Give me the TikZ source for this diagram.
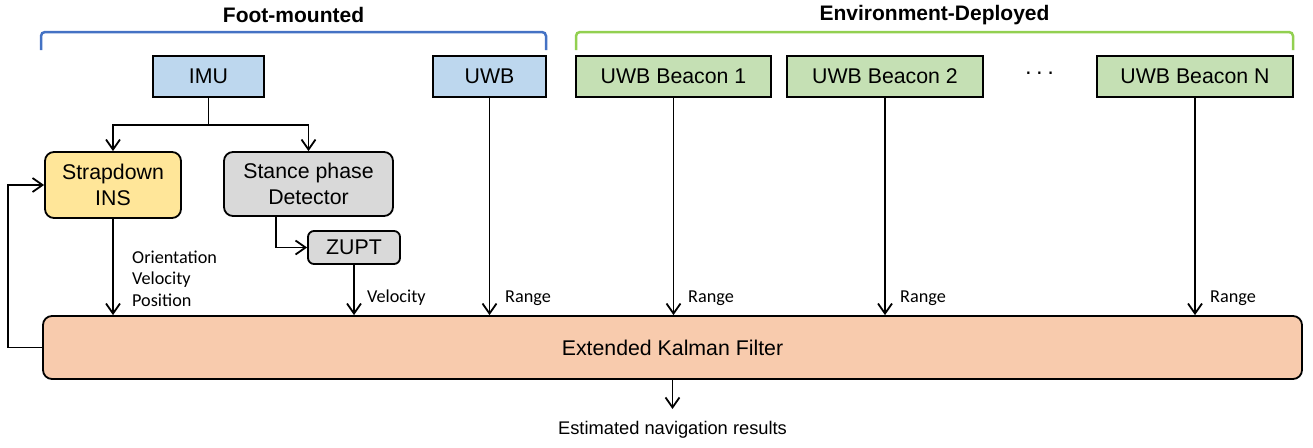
\documentclass[tikz,border=0pt]{standalone}
\usepackage{fontspec}
\setmainfont{Liberation Sans}
\newfontfamily\lblfont{Carlito}
\usepackage{tikz}
\usetikzlibrary{arrows.meta}
\definecolor{imublue}{HTML}{BDD7EE}
\definecolor{beacongreen}{HTML}{C5E0B4}
\definecolor{insyellow}{HTML}{FFE699}
\definecolor{detgray}{HTML}{D9D9D9}
\definecolor{ekforange}{HTML}{F8CBAD}
\definecolor{footblue}{HTML}{4472C4}
\definecolor{envgreen}{HTML}{92D050}

\begin{document}
\begin{tikzpicture}[x=1pt,y=-1pt,
	box/.style={draw,line width=1.8pt,inner sep=0pt,align=center,minimum height=41pt,
		font=\fontsize{21.3}{26.5}\selectfont},
	sensor/.style={box,fill=imublue},
	beacon/.style={box,fill=beacongreen,minimum width=196pt},
	rbox/.style={box,rounded corners=9pt},
	conn/.style={line width=1.8pt},
	arr/.style={conn,-{Straight Barb[length=10pt,width=14pt]}},
	lbl/.style={anchor=west,inner sep=0pt,align=left,font=\lblfont\fontsize{18.2}{21.5}\selectfont},
	brace/.style={line width=2.5pt,rounded corners=4pt},
	title/.style={inner sep=0pt,font=\bfseries\fontsize{21}{25}\selectfont}]
			\useasboundingbox (0,0) rectangle (1313,447);
			\draw[brace,footblue] (41,50) -- (41,32) -- (546,32) -- (546,50);
			\node[title] (foot) at (293.5,15) {Foot-mounted};
			\draw[brace,envgreen] (576,50) -- (576,32) -- (1293,32) -- (1293,50);
			\node[title] (env) at (934.5,15) {Environment-Deployed};
			\node[sensor,minimum width=111pt] (imu) at (208.5,76.5) {IMU};
			\node[sensor,minimum width=113pt] (uwb) at (489.5,76.5) {UWB};
			\node[beacon,minimum width=195pt] (bcn1) at (673.5,76.5) {UWB Beacon 1};
			\node[beacon] (bcn2) at (885,76.5) {UWB Beacon 2};
			\node[inner sep=0pt,font=\fontsize{23}{25}\selectfont] (dots) at (1039.5,76) {\textperiodcentered\hspace{3.5pt}\textperiodcentered\hspace{3.5pt}\textperiodcentered};
			\node[beacon] (bcnN) at (1195,76.5) {UWB Beacon N};
			\node[rbox,fill=insyellow,minimum width=136pt,minimum height=66pt] (sins) at (113,185) {Strapdown\\INS};
			\node[rbox,fill=detgray,minimum width=169pt,minimum height=64pt] (det) at (308.5,184) {Stance phase\\Detector};
			\node[rbox,rounded corners=6pt,fill=detgray,minimum width=92pt,minimum height=33pt] (zupt) at (354,247.5) {ZUPT};
			\node[rbox,fill=ekforange,minimum width=1259pt,minimum height=63pt] (ekf) at (672.5,347.5) {Extended Kalman Filter};
			\node[inner sep=0pt,font=\fontsize{18.3}{22}\selectfont] (res) at (672.5,430) {Estimated navigation results};
			\coordinate (split) at (208.5,125);
			\coordinate (outtip) at (672.5,409);
			\draw[conn] (imu) -- (split);
			\draw[arr] (split) -| (sins);
			\draw[arr] (split) -| (det);
			\draw[arr] ([xshift=-32.5pt]det.south) |- (zupt);
			\draw[arr] (sins) -- (sins |- ekf.north);
			\draw[arr] (zupt) -- (zupt |- ekf.north);
			\draw[arr] (uwb) -- (uwb |- ekf.north);
			\draw[arr] (bcn1) -- (bcn1 |- ekf.north);
			\draw[arr] (bcn2) -- (bcn2 |- ekf.north);
			\draw[arr] (bcnN) -- (bcnN |- ekf.north);
			\draw[arr] (ekf.west) -- ++(-34,0) |- (sins);
			\draw[arr] (ekf) -- (outtip);
			\node[lbl] (sinsout) at (132,278.5) {Orientation\\Velocity\\Position};
			\node[lbl] (zuptout) at (367,298) {Velocity};
			\node[lbl] (rng0) at (505,298) {Range};
			\node[lbl] (rng1) at (688,298) {Range};
			\node[lbl] (rng2) at (900,298) {Range};
			\node[lbl] (rngN) at (1210,298) {Range};
		\end{tikzpicture}
\end{document}
